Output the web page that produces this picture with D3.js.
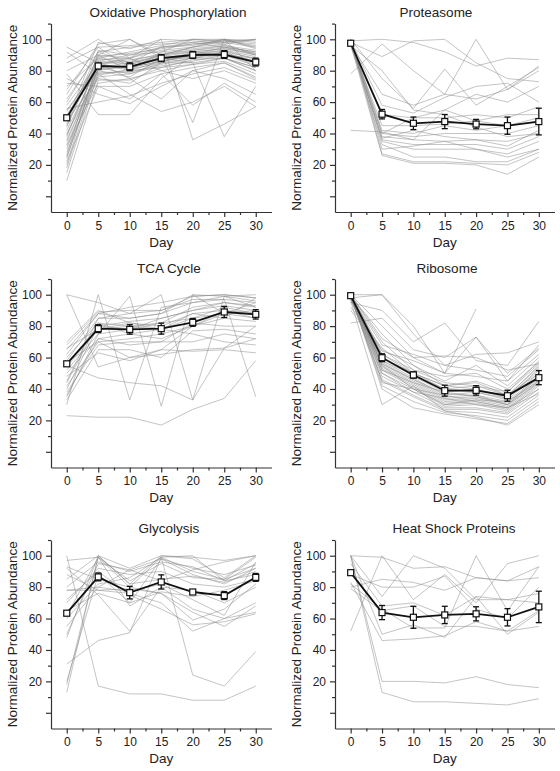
<!DOCTYPE html>
<html>
<head>
<meta charset="utf-8">
<script src="https://cdn.jsdelivr.net/npm/d3@7"></script>
<style>
  body { margin: 0; background: #fff; }
  svg { display: block; font-family: "Liberation Sans", Arial, sans-serif; }
</style>
</head>
<body>
<svg id="chart" width="560" height="771"></svg>
<script>
// ---------------- DATA ----------------
const days = [0, 5, 10, 15, 20, 25, 30];
const minorDays = [2.5, 7.5, 12.5, 17.5, 22.5, 27.5];
const yMajorTicks = [0, 20, 40, 60, 80, 100];
const yMinorTicks = [10, 30, 50, 70, 90, 110];
const titles = ["Oxidative Phosphorylation", "Proteasome", "TCA Cycle", "Ribosome", "Glycolysis", "Heat Shock Proteins"];
const xLabel = "Day";
const yLabel = "Normalized Protein Abundance";

const oxphosLines = [
  [95, 85, 75, 62, 80, 85, 75], [92, 78, 65, 54, 60, 70, 57], [88, 100, 88, 100, 36, 46, 57],
  [85, 95, 82, 90, 47, 100, 80], [80, 90, 100, 88, 85, 38, 70], [78, 52, 52, 75, 90, 95, 90],
  [75, 65, 59, 70, 80, 75, 65], [72, 70, 62, 78, 58, 72, 60], [70, 88, 92, 96, 100, 98, 100],
  [65, 97, 100, 90, 95, 100, 98], [60, 92, 85, 95, 98, 95, 92], [58, 85, 80, 92, 100, 100, 95],
  [55, 82, 78, 85, 92, 90, 88], [52, 80, 76, 88, 88, 92, 85], [50, 88, 85, 90, 95, 97, 90],
  [48, 75, 72, 85, 85, 88, 82], [45, 90, 88, 95, 96, 100, 94], [42, 83, 82, 86, 90, 92, 88],
  [40, 78, 80, 82, 87, 88, 80], [38, 86, 90, 92, 94, 96, 93], [35, 80, 84, 88, 91, 93, 87],
  [32, 72, 75, 80, 84, 86, 78], [30, 84, 86, 91, 93, 95, 92], [28, 76, 78, 83, 86, 90, 84],
  [25, 82, 83, 87, 90, 91, 86], [22, 70, 70, 78, 82, 85, 76], [20, 87, 88, 93, 95, 99, 96],
  [15, 79, 79, 84, 88, 90, 83], [10, 74, 74, 82, 84, 88, 80], [26, 92, 95, 97, 98, 100, 99],
  [24, 85, 87, 90, 92, 94, 91], [48, 98, 94, 100, 99, 97, 100], [36, 81, 82, 86, 89, 91, 86],
  [44, 89, 91, 94, 97, 98, 95], [54, 84, 88, 80, 75, 80, 72], [62, 90, 80, 86, 90, 93, 89],
  [33, 77, 81, 85, 88, 88, 82], [46, 93, 90, 95, 97, 99, 97], [68, 95, 96, 98, 100, 99, 100],
  [18, 82, 85, 89, 92, 94, 90], [39, 86, 84, 90, 93, 96, 91], [56, 60, 64, 72, 78, 82, 74]
];
const oxphosMean = [50, 83, 82.5, 88, 90, 90.3, 85.5];
const oxphosErr = [1.5, 1.8, 2.5, 2.2, 2.2, 2.5, 2.5];

const proteasomeLines = [
  [99, 100, 98, 92, 83, 88, 87], [98, 89, 99, 100, 85, 75, 73], [78, 97, 80, 65, 100, 68, 83],
  [100, 75, 56, 81, 58, 70, 82], [97, 65, 58, 65, 62, 68, 80], [99, 58, 53, 63, 70, 72, 60],
  [42, 41, 36, 55, 65, 60, 70], [97, 52, 50, 50, 52, 50, 57], [98, 45, 45, 46, 48, 52, 52],
  [99, 42, 40, 45, 42, 45, 48], [100, 40, 38, 40, 40, 40, 45], [97, 38, 36, 35, 36, 35, 40],
  [98, 36, 33, 33, 33, 30, 38], [99, 35, 30, 30, 30, 27, 35], [96, 33, 25, 25, 22, 22, 30],
  [100, 27, 22, 22, 21, 20, 28], [97, 26, 21, 21, 20, 14, 25], [98, 40, 50, 55, 48, 45, 50],
  [99, 37, 42, 38, 36, 32, 42], [96, 80, 55, 52, 44, 38, 40], [100, 30, 32, 35, 30, 25, 30]
];
const proteasomeMean = [97.5, 52.3, 46.5, 47.6, 46, 45, 47.6];
const proteasomeErr = [1.5, 3, 4, 4.5, 3, 5.5, 8.5];

const tcaLines = [
  [23, 22, 22, 17, 27, 34, 58], [55, 47, 44, 42, 33, 66, 80], [100, 54, 60, 62, 65, 66, 72],
  [30, 100, 33, 92, 95, 99, 96], [35, 75, 99, 29, 100, 88, 95], [100, 95, 88, 100, 33, 99, 92],
  [45, 85, 85, 88, 95, 97, 35], [68, 89, 90, 90, 99, 100, 98], [65, 88, 85, 88, 100, 99, 100],
  [60, 82, 80, 82, 92, 95, 92], [56, 80, 78, 85, 90, 93, 90], [54, 78, 82, 80, 88, 90, 88],
  [50, 72, 75, 78, 85, 88, 85], [42, 70, 72, 75, 80, 85, 83], [38, 68, 70, 70, 82, 80, 80],
  [33, 65, 65, 60, 77, 78, 75], [48, 63, 58, 65, 64, 65, 63], [62, 88, 92, 95, 99, 100, 98],
  [58, 85, 88, 90, 97, 97, 95], [40, 80, 83, 85, 90, 95, 93], [52, 75, 78, 82, 85, 92, 88],
  [66, 78, 80, 78, 75, 70, 68], [36, 72, 68, 70, 70, 75, 72], [44, 82, 75, 72, 80, 90, 85],
  [57, 70, 60, 65, 80, 88, 90], [70, 90, 82, 78, 88, 85, 98]
];
const tcaMean = [56, 78.4, 77.9, 78.4, 82.4, 89, 87.5];
const tcaErr = [1.5, 2.5, 3, 3.5, 2.5, 3.5, 3];

const ribosomeLines = [
  [100, 100, 75, 55, 62, 63, 70], [98, 100, 80, 50, 91, null, null], [95, 90, 70, 82, 58, 55, 83],
  [82, 85, 65, 60, 73, 45, 68], [100, 80, 60, 50, 73, 50, 66], [99, 75, 55, 45, 55, 42, 60],
  [100, 70, 52, 48, 50, 40, 57], [90, 65, 55, 42, 45, 38, 56], [100, 62, 50, 40, 42, 36, 54],
  [99, 60, 48, 38, 40, 34, 52], [100, 58, 47, 36, 38, 33, 50], [98, 57, 46, 35, 36, 32, 48],
  [100, 56, 45, 34, 35, 31, 47], [99, 55, 44, 33, 34, 30, 46], [100, 54, 43, 32, 33, 29, 45],
  [97, 53, 42, 31, 32, 28, 44], [100, 52, 41, 30, 31, 27, 43], [99, 50, 40, 29, 30, 26, 42],
  [100, 48, 38, 28, 28, 25, 40], [98, 46, 36, 27, 27, 24, 38], [100, 45, 35, 26, 25, 22, 36],
  [99, 42, 32, 25, 23, 20, 34], [100, 40, 28, 24, 21, 18, 32], [96, 30, 42, 26, 22, 17, 30],
  [100, 60, 50, 42, 40, 35, 55], [99, 58, 49, 40, 38, 34, 53], [100, 62, 52, 44, 42, 38, 58],
  [98, 56, 46, 37, 36, 30, 48], [100, 64, 58, 50, 48, 45, 62], [99, 68, 62, 55, 52, 48, 65],
  [100, 55, 40, 30, 33, 32, 45], [97, 50, 38, 34, 30, 28, 40], [100, 72, 60, 61, 60, 52, 56],
  [99, 44, 40, 36, 32, 28, 37], [100, 52, 44, 38, 35, 30, 44], [92, 66, 50, 42, 44, 36, 50]
];
const ribosomeMean = [99.4, 59.9, 48.9, 38.9, 39.1, 35.7, 47.2];
const ribosomeErr = [1, 2.5, 2, 3.5, 3, 3.5, 4.5];

const glycolysisLines = [
  [100, 17, 12, 12, 8, 8, 17], [31, 46, 51, 99, 24, 17, 39], [13, 100, 92, 100, 99, 97, 100],
  [18, 99, 80, 99, 90, 85, 99], [20, 88, 70, 98, 88, 82, 92], [85, 100, 82, 100, 98, 86, 100],
  [80, 96, 90, 96, 93, 84, 95], [97, 99, 68, 80, 66, 60, 64], [93, 85, 80, 76, 64, 55, 68],
  [88, 78, 76, 70, 52, 60, 70], [78, 78, 79, 76, 59, 66, 82], [72, 90, 75, 66, 56, 58, 63],
  [65, 76, 70, 77, 74, 78, 84], [60, 82, 86, 99, 100, 84, 88], [55, 80, 91, 98, 92, 88, 94],
  [48, 100, 82, 85, 87, 83, 90], [50, 95, 91, 84, 91, 96, 100], [92, 75, 52, 80, 78, 70, 80],
  [62, 99, 84, 95, 86, 85, 92], [70, 92, 88, 90, 82, 80, 85], [78, 80, 77, 82, 72, 62, 96]
];
const glycolysisMean = [63.4, 86.5, 76.5, 83.3, 76.9, 74.6, 86.2];
const glycolysisErr = [1.5, 2.5, 4, 4.5, 1.5, 2.5, 2.5];

const hspLines = [
  [100, 13, 7, 7, 6, 5, 9], [100, 20, 20, 19, 23, 18, 16], [100, 99, 92, 93, 86, 84, 86],
  [80, 85, 83, 78, 86, 84, 93], [52, 100, 72, 88, 70, 95, 100], [100, 74, 100, 92, 72, 72, 70],
  [82, 66, 54, 54, 100, 65, 93], [100, 50, 56, 48, 74, 50, 64], [83, 46, 47, 49, 58, 52, 55],
  [88, 80, 80, 87, 66, 60, 80], [79, 65, 68, 55, 55, 52, 65], [95, 68, 70, 62, 74, 72, 76]
];
const hspMean = [89.2, 63.8, 60.8, 62.3, 63, 60.8, 67.4];
const hspErr = [1.5, 4.5, 7, 5.5, 4.5, 5.5, 10];

// ---------------- LAYOUT ----------------
const panels = [
  { lines: oxphosLines, mean: oxphosMean, err: oxphosErr, col: 0, row: 0, titleX: 168 },
  { lines: proteasomeLines, mean: proteasomeMean, err: proteasomeErr, col: 1, row: 0, titleX: 436 },
  { lines: tcaLines, mean: tcaMean, err: tcaErr, col: 0, row: 1, titleX: 169 },
  { lines: ribosomeLines, mean: ribosomeMean, err: ribosomeErr, col: 1, row: 1, titleX: 447 },
  { lines: glycolysisLines, mean: glycolysisMean, err: glycolysisErr, col: 0, row: 2, titleX: 169 },
  { lines: hspLines, mean: hspMean, err: hspErr, col: 1, row: 2, titleX: 454 }
];
const colRange = [[51, 271.5], [335, 554.5]];
const rowRange = [[212, 23.6], [467.5, 279], [728.5, 540]];
const rowTitleY = [16.5, 272.5, 532.5];
const labelSize = 13.5;

const svg = d3.select("#chart");

panels.forEach((p, i) => {
  const x = d3.scaleLinear().domain([-2.5, 32.5]).range(colRange[p.col]);
  const y = d3.scaleLinear().domain([-10, 110]).range(rowRange[p.row]);
  const g = svg.append("g");

  // grey individual lines
  const line = d3.line()
    .defined(d => d != null)
    .x((d, j) => x(days[j]))
    .y(d => y(d));
  g.append("g").selectAll("path").data(p.lines).join("path")
    .attr("d", line)
    .attr("fill", "none")
    .attr("stroke", "#8a8a8a")
    .attr("stroke-opacity", 0.5)
    .attr("stroke-width", 1);

  // axes
  const bottom = y.range()[0];
  const left = x.range()[0];
  g.append("g").attr("transform", `translate(0,${bottom})`)
    .call(d3.axisBottom(x).tickValues(days).tickSize(5).tickSizeOuter(0).tickPadding(4));
  g.append("g").attr("transform", `translate(0,${bottom})`)
    .call(d3.axisBottom(x).tickValues(minorDays).tickSize(3).tickSizeOuter(0).tickFormat(""))
    .select(".domain").remove();
  g.append("g").attr("transform", `translate(${left},0)`)
    .call(d3.axisLeft(y).tickValues(yMajorTicks).tickSize(5).tickSizeOuter(0).tickPadding(4)
      .tickFormat(d => d === 0 ? "" : d));
  g.append("g").attr("transform", `translate(${left},0)`)
    .call(d3.axisLeft(y).tickValues(yMinorTicks).tickSize(3).tickSizeOuter(0).tickFormat(""))
    .select(".domain").remove();
  g.selectAll(".domain, .tick line").attr("stroke", "#333").attr("stroke-width", 1.2);
  g.selectAll(".tick text").attr("font-size", 12).attr("fill", "#222")
    .attr("font-family", "'Liberation Sans', Arial, sans-serif");

  // mean line with error bars
  const meanLine = d3.line().x((d, j) => x(days[j])).y(d => y(d));
  g.append("path").datum(p.mean).attr("d", meanLine)
    .attr("fill", "none").attr("stroke", "#111").attr("stroke-width", 1.8);
  const eb = g.append("g").selectAll("g").data(p.mean).join("g");
  eb.append("line")
    .attr("x1", (d, j) => x(days[j])).attr("x2", (d, j) => x(days[j]))
    .attr("y1", (d, j) => y(d - p.err[j])).attr("y2", (d, j) => y(d + p.err[j]))
    .attr("stroke", "#111").attr("stroke-width", 1.3);
  [-1, 1].forEach(s => {
    eb.append("line")
      .attr("x1", (d, j) => x(days[j]) - 3).attr("x2", (d, j) => x(days[j]) + 3)
      .attr("y1", (d, j) => y(d + s * p.err[j])).attr("y2", (d, j) => y(d + s * p.err[j]))
      .attr("stroke", "#111").attr("stroke-width", 1.3);
  });
  eb.append("rect")
    .attr("x", (d, j) => x(days[j]) - 3).attr("y", d => y(d) - 3)
    .attr("width", 6).attr("height", 6)
    .attr("fill", "#fff").attr("stroke", "#111").attr("stroke-width", 1.2);

  // labels
  svg.append("text").attr("x", p.titleX).attr("y", rowTitleY[p.row])
    .attr("text-anchor", "middle").attr("font-size", labelSize).attr("fill", "#222")
    .text(titles[i]);
  svg.append("text").attr("x", (x(0) + x(30)) / 2).attr("y", bottom + 34.5)
    .attr("text-anchor", "middle").attr("font-size", labelSize).attr("fill", "#222")
    .text(xLabel);
  const yc = (y.range()[0] + y.range()[1]) / 2;
  const yx = left - 34.5;
  svg.append("text").attr("transform", `translate(${yx},${yc}) rotate(-90)`)
    .attr("text-anchor", "middle").attr("font-size", labelSize).attr("fill", "#222")
    .text(yLabel);
});
</script>
</body>
</html>
